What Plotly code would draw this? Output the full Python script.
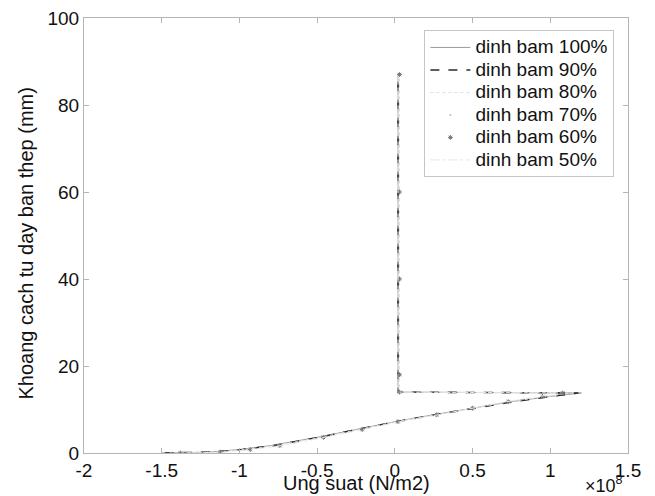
import plotly.graph_objects as go

# depth levels (mm) shared by all series
depth = [0, 0.2, 0.8, 1.7, 3.6, 5.4, 7.2, 8.8, 10.3, 11.8, 13.0, 13.8, 14.0, 18.0, 40.0, 60.0, 87.0]

# stress (N/m2) for each series at the depth levels
s100 = [-1.50e8, -1.20e8, -1.00e8, -0.80e8, -0.50e8, -0.25e8, 0.00e8, 0.25e8, 0.50e8, 0.75e8, 1.00e8, 1.20e8, 0.02e8, 0.02e8, 0.02e8, 0.02e8, 0.02e8]
s90 = [-1.48e8, -1.18e8, -0.98e8, -0.78e8, -0.49e8, -0.24e8, 0.01e8, 0.26e8, 0.51e8, 0.76e8, 1.00e8, 1.18e8, 0.02e8, 0.02e8, 0.02e8, 0.02e8, 0.02e8]
s80 = [-1.45e8, -1.16e8, -0.97e8, -0.77e8, -0.48e8, -0.23e8, 0.01e8, 0.26e8, 0.50e8, 0.74e8, 0.98e8, 1.15e8, 0.03e8, 0.03e8, 0.03e8, 0.03e8, 0.03e8]
s70 = [-1.42e8, -1.14e8, -0.95e8, -0.75e8, -0.47e8, -0.22e8, 0.02e8, 0.27e8, 0.51e8, 0.74e8, 0.97e8, 1.12e8, 0.02e8, 0.02e8, 0.02e8, 0.02e8, 0.02e8]
s60 = [-1.38e8, -1.12e8, -0.93e8, -0.74e8, -0.46e8, -0.21e8, 0.02e8, 0.27e8, 0.50e8, 0.73e8, 0.95e8, 1.08e8, 0.03e8, 0.03e8, 0.03e8, 0.03e8, 0.03e8]
s50 = [-1.35e8, -1.10e8, -0.92e8, -0.73e8, -0.45e8, -0.20e8, 0.03e8, 0.28e8, 0.50e8, 0.72e8, 0.93e8, 1.05e8, 0.02e8, 0.02e8, 0.02e8, 0.02e8, 0.02e8]

series_names = ["dinh bam 100%", "dinh bam 90%", "dinh bam 80%", "dinh bam 70%", "dinh bam 60%", "dinh bam 50%"]
x_tickvals = [-2e8, -1.5e8, -1e8, -0.5e8, 0, 0.5e8, 1e8, 1.5e8]
x_ticktext = ["-2", "-1.5", "-1", "-0.5", "0", "0.5", "1", "1.5"]
y_tickvals = [0, 20, 40, 60, 80, 100]

FONT = "Liberation Sans, Arial, sans-serif"


def leg(name):
    return "<span style='font-size:19px'>" + name + "</span>"


fig = go.Figure()
fig.add_trace(go.Scatter(x=s100, y=depth, name=leg(series_names[0]), mode="lines",
                         line=dict(color="#9a9a9a", width=1)))
fig.add_trace(go.Scatter(x=s90, y=depth, name=leg(series_names[1]), mode="lines",
                         line=dict(color="#2a2a2a", width=1.6, dash="dash")))
fig.add_trace(go.Scatter(x=s80, y=depth, name=leg(series_names[2]), mode="lines",
                         line=dict(color="#dddddd", width=1, dash="dot")))
fig.add_trace(go.Scatter(x=s70, y=depth, name=leg(series_names[3]), mode="markers",
                         marker=dict(color="#bbbbbb", size=2)))
fig.add_trace(go.Scatter(x=s60, y=depth, name=leg(series_names[4]), mode="markers",
                         marker=dict(color="#777777", size=4, symbol="asterisk-open",
                                     line=dict(color="#777777", width=1))))
fig.add_trace(go.Scatter(x=s50, y=depth, name=leg(series_names[5]), mode="lines",
                         line=dict(color="#e6e6e6", width=1, dash="dashdot")))

fig.update_layout(
    width=655, height=496,
    margin=dict(l=84, r=27, t=18, b=43),
    paper_bgcolor="white", plot_bgcolor="white",
    font=dict(family=FONT, size=19, color="#111111"),
    showlegend=True,
    legend=dict(x=0.975, y=0.972, xanchor="right", yanchor="top",
                bgcolor="white", bordercolor="#c5c5c5", borderwidth=1,
                font=dict(family=FONT, size=15, color="#111111"),
                itemwidth=40, tracegroupgap=0),
    xaxis=dict(range=[-2e8, 1.5e8], tickvals=x_tickvals, ticktext=x_ticktext,
               automargin=False,
               showgrid=False, zeroline=False, showline=True, mirror="ticks",
               linecolor="#b5b5b5", linewidth=1, ticks="inside", ticklen=5,
               tickcolor="#b5b5b5", tickfont=dict(size=19)),
    yaxis=dict(range=[0, 100], tickvals=y_tickvals,
               automargin=False,
               showgrid=False, zeroline=False, showline=True, mirror="ticks",
               linecolor="#b5b5b5", linewidth=1, ticks="inside", ticklen=5,
               tickcolor="#b5b5b5", tickfont=dict(size=19)),
)

fig.add_annotation(x=0.5, y=0, xref="paper", yref="paper", xanchor="center", yanchor="top",
                   yshift=-17, showarrow=False,
                   text="Ung suat (N/m2)", font=dict(family=FONT, size=20, color="#111111"))
fig.add_annotation(x=0, y=0.5, xref="paper", yref="paper", xanchor="center", yanchor="middle",
                   xshift=-59, yshift=-8, showarrow=False, textangle=-90,
                   text="Khoang cach tu day ban thep (mm)", font=dict(family=FONT, size=20, color="#111111"))
fig.add_annotation(x=1.0, y=0, xref="paper", yref="paper", xanchor="center", yanchor="top",
                   yshift=-18, xshift=-24, showarrow=False,
                   text="×10<sup>8</sup>", font=dict(family=FONT, size=18, color="#111111"))

fig.write_html("out.html", config={"displayModeBar": False},
               post_script="document.body.style.margin='0';document.body.style.overflow='hidden';")
